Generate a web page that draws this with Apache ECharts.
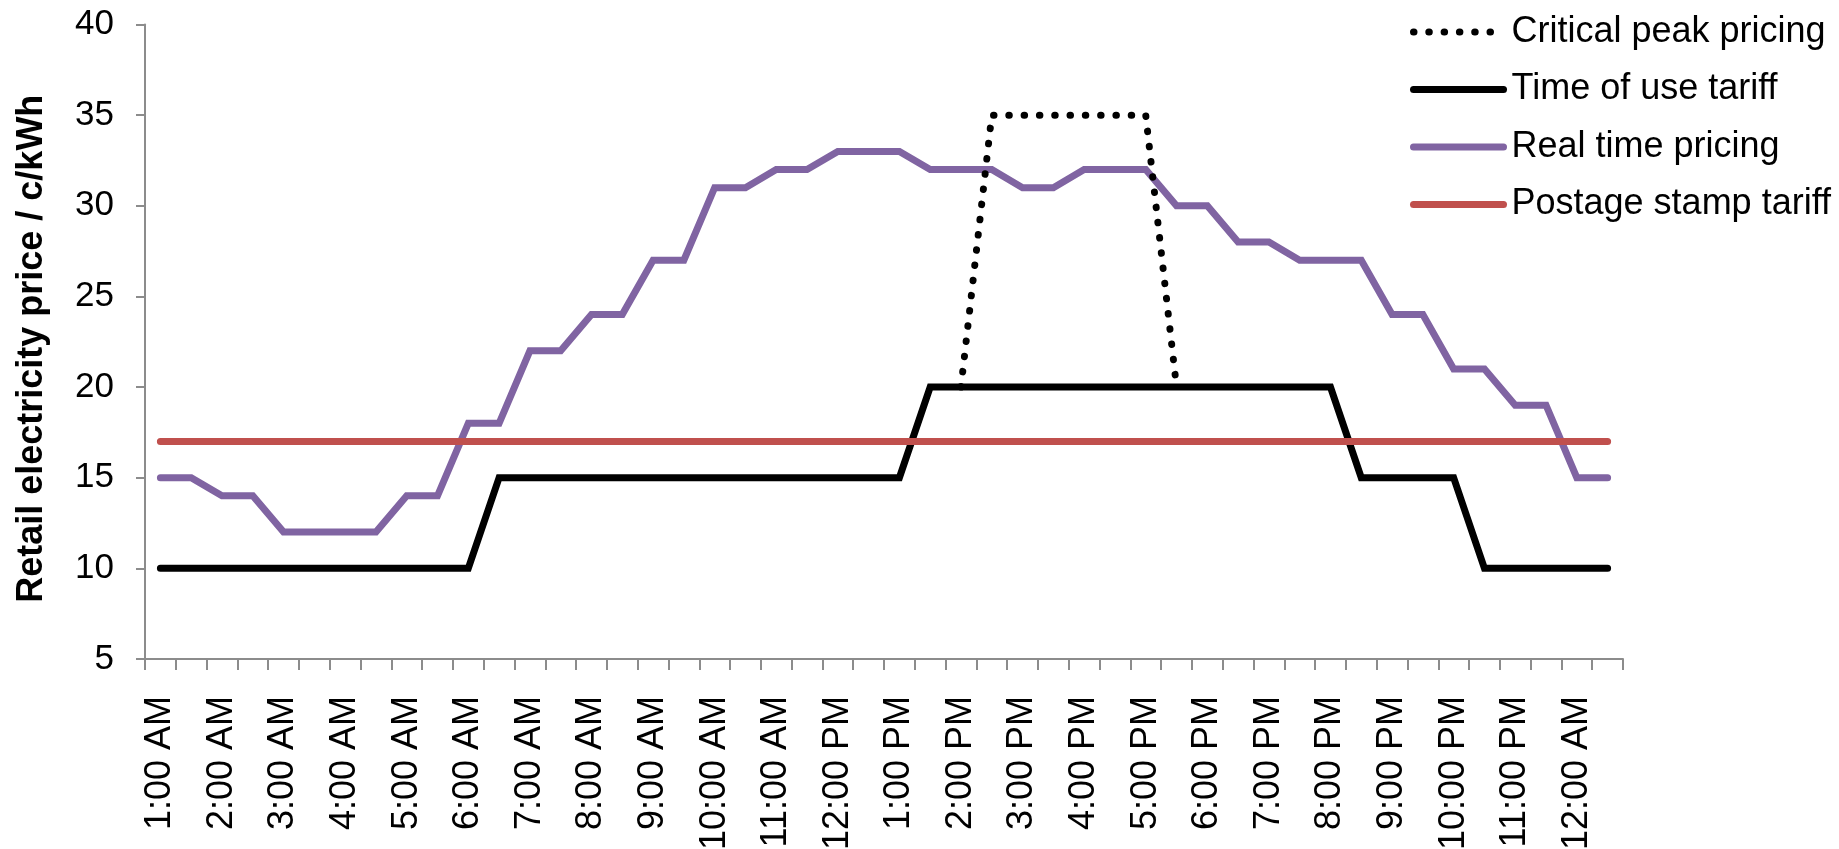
<!DOCTYPE html>
<html>
<head>
<meta charset="utf-8">
<title>Retail electricity price by tariff</title>
<script src="https://cdn.jsdelivr.net/npm/echarts@6/dist/echarts.min.js"></script>
<style>
  html, body { margin: 0; padding: 0; background: #ffffff; }
  #chart { width: 1839px; height: 849px; }
</style>
</head>
<body>
<div id="chart"></div>
<script>
// Half-hourly time slots over one day
var timeSlots = [
  '1:00 AM', '1:30 AM', '2:00 AM', '2:30 AM', '3:00 AM', '3:30 AM',
  '4:00 AM', '4:30 AM', '5:00 AM', '5:30 AM', '6:00 AM', '6:30 AM',
  '7:00 AM', '7:30 AM', '8:00 AM', '8:30 AM', '9:00 AM', '9:30 AM',
  '10:00 AM', '10:30 AM', '11:00 AM', '11:30 AM', '12:00 PM', '12:30 PM',
  '1:00 PM', '1:30 PM', '2:00 PM', '2:30 PM', '3:00 PM', '3:30 PM',
  '4:00 PM', '4:30 PM', '5:00 PM', '5:30 PM', '6:00 PM', '6:30 PM',
  '7:00 PM', '7:30 PM', '8:00 PM', '8:30 PM', '9:00 PM', '9:30 PM',
  '10:00 PM', '10:30 PM', '11:00 PM', '11:30 PM', '12:00 AM', '12:30 AM'
];

// Prices in c/kWh ('-' = no value in that slot)
var criticalPeak = [
  '-', '-', '-', '-', '-', '-', '-', '-', '-', '-', '-', '-',
  '-', '-', '-', '-', '-', '-', '-', '-', '-', '-', '-', '-',
  '-', '-', 20, 35, 35, 35, 35, 35, 35, 20, '-', '-',
  '-', '-', '-', '-', '-', '-', '-', '-', '-', '-', '-', '-'
];
var timeOfUse = [
  10, 10, 10, 10, 10, 10, 10, 10, 10, 10, 10, 15,
  15, 15, 15, 15, 15, 15, 15, 15, 15, 15, 15, 15,
  15, 20, 20, 20, 20, 20, 20, 20, 20, 20, 20, 20,
  20, 20, 20, 15, 15, 15, 15, 10, 10, 10, 10, 10
];
var realTime = [
  15, 15, 14, 14, 12, 12, 12, 12, 14, 14, 18, 18,
  22, 22, 24, 24, 27, 27, 31, 31, 32, 32, 33, 33,
  33, 32, 32, 32, 31, 31, 32, 32, 32, 30, 30, 28,
  28, 27, 27, 27, 24, 24, 21, 21, 19, 19, 15, 15
];
var postageStamp = [
  17, 17, 17, 17, 17, 17, 17, 17, 17, 17, 17, 17,
  17, 17, 17, 17, 17, 17, 17, 17, 17, 17, 17, 17,
  17, 17, 17, 17, 17, 17, 17, 17, 17, 17, 17, 17,
  17, 17, 17, 17, 17, 17, 17, 17, 17, 17, 17, 17
];

var FONT = '"Liberation Sans", Arial, Helvetica, sans-serif';
var AXIS_GREY = '#8c8c8c';
var LINE_W = 7;

var chart = echarts.init(document.getElementById('chart'), null, { renderer: 'canvas' });

chart.setOption({
  animation: false,
  backgroundColor: '#ffffff',
  textStyle: { fontFamily: FONT, color: '#000000' },
  // fixed plot box; long rotated labels may run off the bottom edge
  grid: { left: 145, right: 216, top: 24.5, bottom: 190, containLabel: false, outerBoundsMode: 'none' },
  legend: {
    orient: 'vertical',
    left: 1405,
    top: 7,
    itemWidth: 90,
    itemHeight: 14,
    itemGap: 17.5,
    selectedMode: false,
    textStyle: { fontFamily: FONT, fontSize: 36, color: '#000000', lineHeight: 40, padding: [0, 0, 0, 3] },
    // line-only keys: hide the marker dot that line series put on their key
    itemStyle: { opacity: 0 },
    lineStyle: { width: LINE_W, cap: 'round' },
    data: ['Critical peak pricing', 'Time of use tariff', 'Real time pricing', 'Postage stamp tariff']
  },
  xAxis: {
    type: 'category',
    data: timeSlots,
    boundaryGap: true,
    axisLine: { lineStyle: { color: AXIS_GREY, width: 2 } },
    axisTick: { show: true, interval: 0, length: 11, lineStyle: { color: AXIS_GREY, width: 2 } },
    axisLabel: {
      interval: 1,
      rotate: 90,
      margin: 37,
      fontFamily: FONT,
      fontSize: 36,
      color: '#000000'
    },
    splitLine: { show: false }
  },
  yAxis: {
    type: 'value',
    min: 5,
    max: 40,
    interval: 5,
    name: 'Retail electricity price / c/kWh',
    nameLocation: 'middle',
    nameGap: 95,
    nameTextStyle: { fontFamily: FONT, fontSize: 36, fontWeight: 'bold', color: '#000000', padding: [0, 14, 0, 0] },
    axisLine: { show: true, lineStyle: { color: AXIS_GREY, width: 2 } },
    axisTick: { show: true, length: 9, lineStyle: { color: AXIS_GREY, width: 2 } },
    axisLabel: { margin: 31, fontFamily: FONT, fontSize: 35, color: '#000000' },
    splitLine: { show: false }
  },
  series: [
    {
      name: 'Critical peak pricing',
      type: 'line',
      data: criticalPeak,
      symbol: 'none',
      z: 4,
      lineStyle: { color: '#000000', width: LINE_W, type: [0.5, 14.8], cap: 'round', join: 'round' },
      itemStyle: { color: '#000000' }
    },
    {
      name: 'Time of use tariff',
      type: 'line',
      data: timeOfUse,
      symbol: 'none',
      z: 3,
      lineStyle: { color: '#000000', width: LINE_W, cap: 'round', join: 'miter' },
      itemStyle: { color: '#000000' }
    },
    {
      name: 'Real time pricing',
      type: 'line',
      data: realTime,
      symbol: 'none',
      z: 2,
      lineStyle: { color: '#8064a2', width: LINE_W, cap: 'round', join: 'miter' },
      itemStyle: { color: '#8064a2' }
    },
    {
      name: 'Postage stamp tariff',
      type: 'line',
      data: postageStamp,
      symbol: 'none',
      z: 5,
      lineStyle: { color: '#c0504d', width: LINE_W, cap: 'round' },
      itemStyle: { color: '#c0504d' }
    }
  ]
});
</script>
</body>
</html>
